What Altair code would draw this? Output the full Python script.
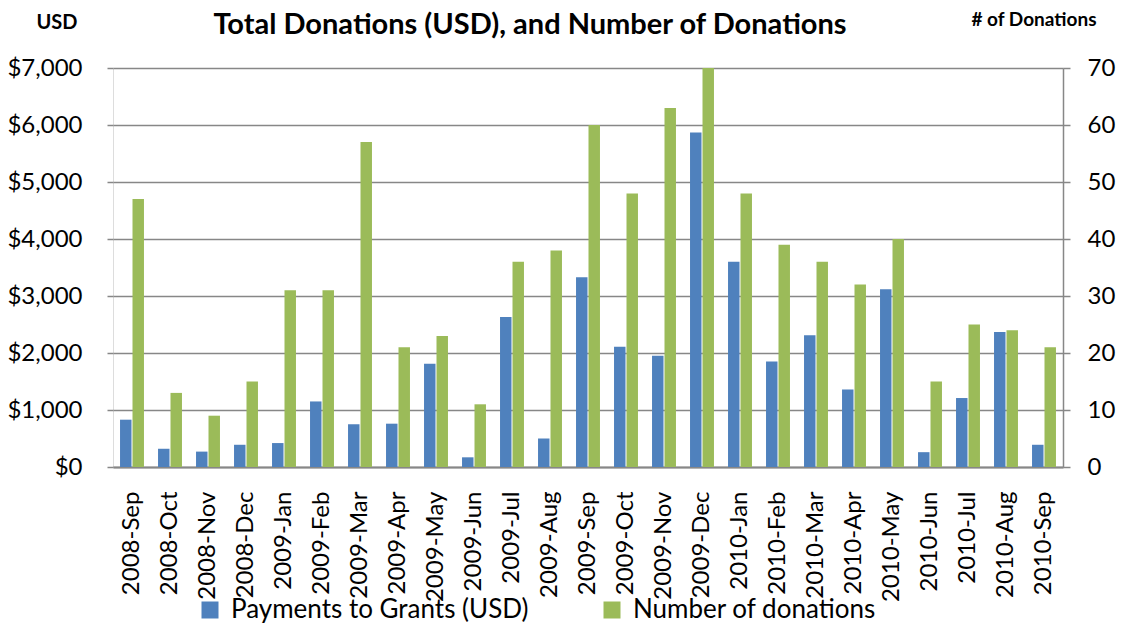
import altair as alt
import pandas as pd

months = ["2008-Sep", "2008-Oct", "2008-Nov", "2008-Dec", "2009-Jan", "2009-Feb",
          "2009-Mar", "2009-Apr", "2009-May", "2009-Jun", "2009-Jul", "2009-Aug",
          "2009-Sep", "2009-Oct", "2009-Nov", "2009-Dec", "2010-Jan", "2010-Feb",
          "2010-Mar", "2010-Apr", "2010-May", "2010-Jun", "2010-Jul", "2010-Aug",
          "2010-Sep"]
usd = [830, 320, 270, 390, 420, 1150, 750, 760, 1810, 170, 2630, 500,
       3330, 2110, 1950, 5870, 3600, 1850, 2310, 1360, 3120, 260, 1210, 2370, 390]
donations = [47, 13, 9, 15, 31, 31, 57, 21, 23, 11, 36, 38,
             60, 48, 63, 70, 48, 39, 36, 32, 40, 15, 25, 24, 21]
series_names = ["Payments to Grants (USD)", "Number of donations"]
series_colors = ["#4F81BD", "#9BBB59"]
usd_ticks = [0, 1000, 2000, 3000, 4000, 5000, 6000, 7000]
count_ticks = [0, 10, 20, 30, 40, 50, 60, 70]
title_text = "Total Donations (USD), and Number of Donations"
left_title = "USD"
right_title = "# of Donations"

df = pd.DataFrame({"month": months, "usd": usd, "count": donations})

FONT = "Lato"
GRID = "#878787"

x_enc = alt.X("month:N", sort=months, title=None,
              scale=alt.Scale(paddingInner=0.37, paddingOuter=0.185),
              axis=alt.Axis(labelAngle=-90, labelFontSize=24, labelFont=FONT,
                            labelColor="#000", ticks=False, labelPadding=24,
                            domainColor=GRID, domainWidth=2))
off_enc = alt.XOffset("series:N", scale=alt.Scale(domain=series_names, paddingInner=0.08))
color_enc = alt.Color("series:N", scale=alt.Scale(domain=series_names, range=series_colors),
                      legend=alt.Legend(title=None, orient="none", direction="horizontal",
                                        legendX=84, legendY=529, symbolType="square",
                                        symbolSize=289, symbolStrokeWidth=0,
                                        labelFontSize=26, labelFont=FONT, labelColor="#000",
                                        labelOffset=8, columnPadding=70, labelLimit=500))

bars_usd = alt.Chart(df).transform_calculate(series="'" + series_names[0] + "'").mark_bar().encode(
    x=x_enc,
    xOffset=off_enc,
    color=color_enc,
    y=alt.Y("usd:Q", title=None,
            scale=alt.Scale(domain=[0, 7000], nice=False),
            axis=alt.Axis(values=usd_ticks, format="$,.0f", labelFontSize=24, labelFont=FONT,
                          labelColor="#000", domain=False, tickSize=6, tickColor=GRID,
                          tickWidth=1.5, labelPadding=25, grid=True, gridColor=GRID,
                          gridWidth=1.5)),
)

bars_cnt = alt.Chart(df).transform_calculate(series="'" + series_names[1] + "'").mark_bar().encode(
    x=x_enc,
    xOffset=off_enc,
    color=color_enc,
    y=alt.Y("count:Q", title=None,
            scale=alt.Scale(domain=[0, 70], nice=False),
            axis=alt.Axis(values=count_ticks, orient="right", labelFontSize=24, labelFont=FONT,
                          labelColor="#000", domain=True, domainColor=GRID, domainWidth=1.5,
                          tickSize=7, tickColor=GRID, tickWidth=1.5, labelPadding=17,
                          grid=False)),
)

title_mark = alt.Chart(pd.DataFrame({"t": [title_text]})).mark_text(
    font=FONT, fontSize=29, fontWeight="bold", align="center", baseline="top", color="#000"
).encode(x=alt.value(417), y=alt.value(-57), text="t:N")
left_mark = alt.Chart(pd.DataFrame({"t": [left_title]})).mark_text(
    font=FONT, fontSize=20, fontWeight="bold", align="center", baseline="alphabetic", color="#000"
).encode(x=alt.value(-56), y=alt.value(-39), text="t:N")
right_mark = alt.Chart(pd.DataFrame({"t": [right_title]})).mark_text(
    font=FONT, fontSize=19, fontWeight="bold", align="center", baseline="alphabetic", color="#000"
).encode(x=alt.value(921), y=alt.value(-42), text="t:N")

chart = alt.layer(bars_usd, bars_cnt, title_mark, left_mark, right_mark).resolve_scale(
    y="independent"
).properties(
    width=950, height=399,
    autosize=alt.AutoSizeParams(type="none"),
    padding={"left": 105, "top": 60, "right": 55, "bottom": 158},
).configure_view(stroke=None).configure(background="white")

chart.save("out.html", embed_options={"renderer": "svg", "actions": False})
